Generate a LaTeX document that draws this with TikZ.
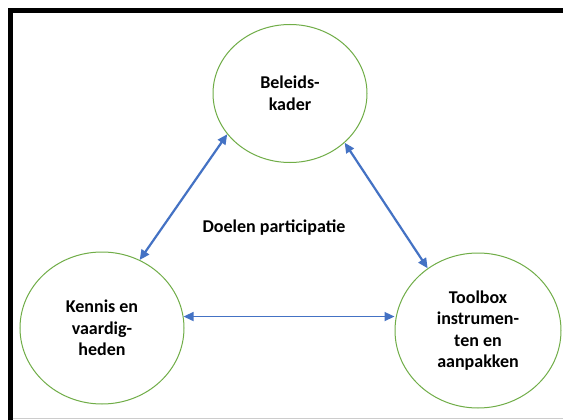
\documentclass[tikz,border=0pt]{standalone}
\usepackage{fontspec}
\setmainfont{Carlito}
\usetikzlibrary{shapes.geometric,arrows.meta}
\definecolor{cgreen}{HTML}{70AD47}
\definecolor{cblue}{HTML}{4472C4}
\tikzset{
  bubble/.style={ellipse, draw=cgreen, line width=1pt, inner sep=0pt, align=center,
    font=\fontsize{18}{21.5}\selectfont\bfseries},
  link/.style={draw=cblue, line width=2.2pt, {Triangle[length=10pt,width=9pt]}-{Triangle[length=10pt,width=9pt]}},
  thinlink/.style={draw=cblue, line width=1.5pt, {Triangle[length=10pt,width=9pt]}-{Triangle[length=10pt,width=9pt]}}
}
\begin{document}
\begin{tikzpicture}[x=1pt,y=-1pt]
\useasboundingbox (0,0) rectangle (563,420);
\fill[white] (0,0) rectangle (563,420);
% frame
\draw[line width=4.7pt] (10.35,420) -- (10.35,10.35) -- (563,10.35);
\draw[black!20, line width=1pt] (12.7,418.5) -- (563,418.5);
% circles
\node[bubble, minimum width=154pt, minimum height=138pt] (top) at (290,93.5) {Beleids-\\kader};
\node[bubble, minimum width=164pt, minimum height=152pt] (left) at (102,328) {Kennis en\\vaardig-\\heden};
\node[bubble, minimum width=166pt, minimum height=155pt] (right) at (478,330.5) {Toolbox\\instrumen-\\ten en\\aanpakken};
\node[font=\fontsize{18}{21.5}\selectfont\bfseries] (goal) at (274,228) {Doelen participatie};
% arrows
\draw[link] (top.213.6) -- (left.61.4);
\draw[link] (top.318.8) -- (right.129.4);
\draw[thinlink] (left.8) -- (left.8 -| right.west);
\end{tikzpicture}
\end{document}
